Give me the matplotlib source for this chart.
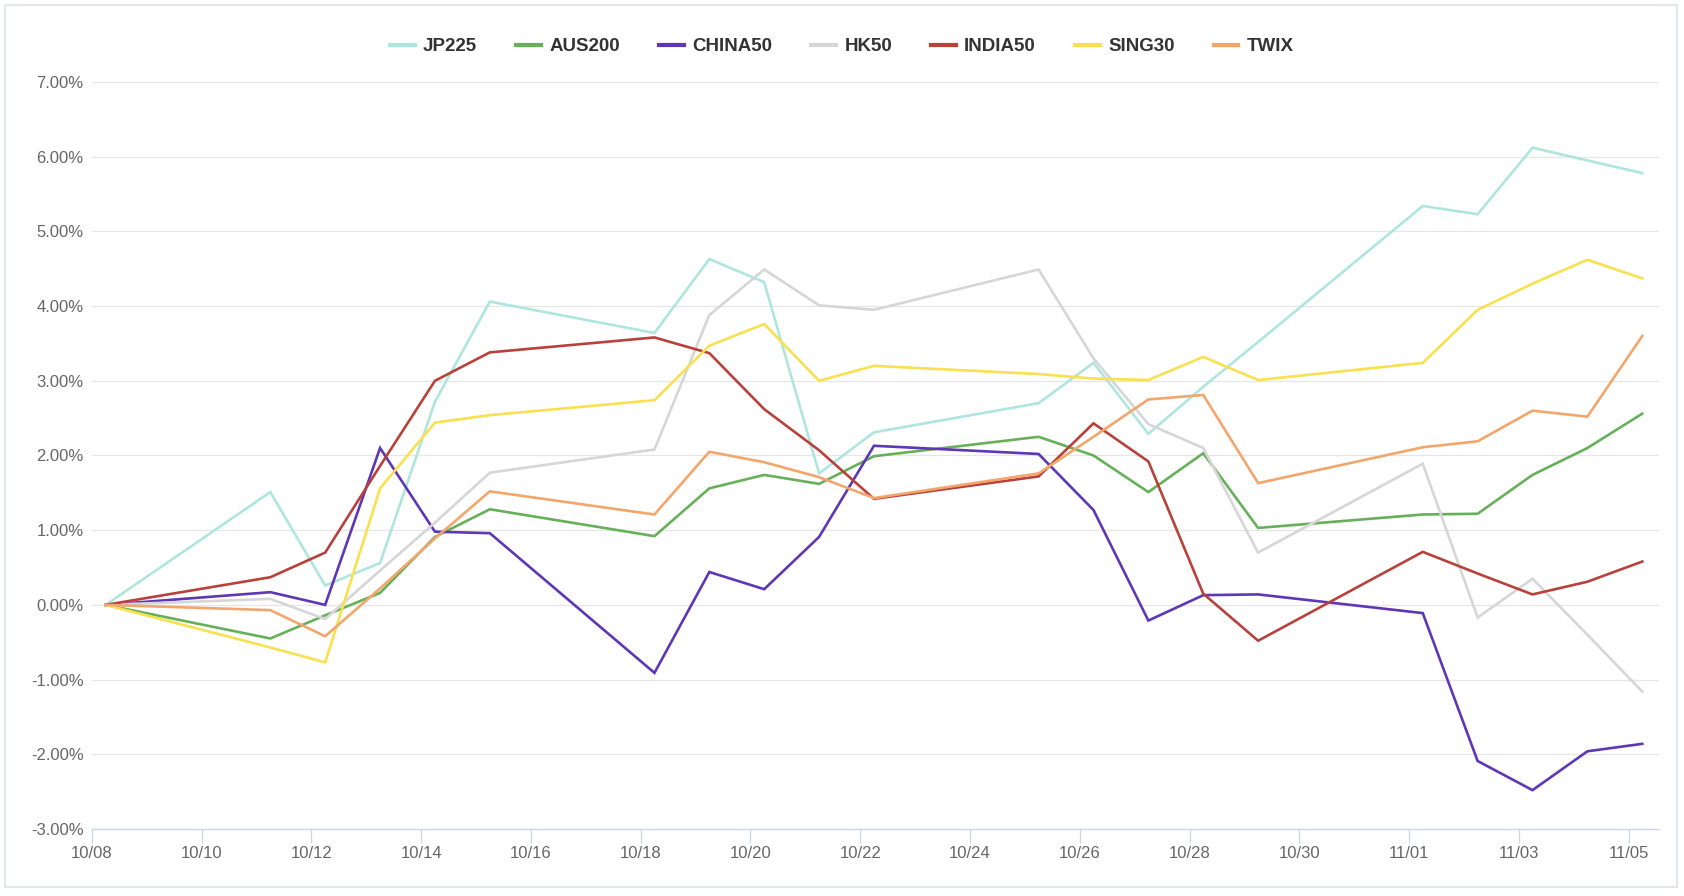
import numpy as np
import pandas as pd
import matplotlib
matplotlib.use("Agg")
import matplotlib.pyplot as plt
from matplotlib.patches import Rectangle

# Data (daily % change vs 10/08)
dates = ['2021-10-08', '2021-10-11', '2021-10-12', '2021-10-13', '2021-10-14',
         '2021-10-15', '2021-10-18', '2021-10-19', '2021-10-20', '2021-10-21',
         '2021-10-22', '2021-10-25', '2021-10-26', '2021-10-27', '2021-10-28',
         '2021-10-29', '2021-11-01', '2021-11-02', '2021-11-03', '2021-11-04',
         '2021-11-05']
jp225 = [0, 1.51, 0.26, 0.56, 2.72, 4.06, 3.64, 4.63, 4.32, 1.76, 2.31,
         2.70, 3.24, 2.29, 2.92, 3.52, 5.34, 5.23, 6.12, 5.95, 5.78]
aus200 = [0, -0.45, -0.14, 0.16, 0.91, 1.28, 0.92, 1.56, 1.74, 1.62, 1.99,
          2.25, 2.00, 1.51, 2.03, 1.03, 1.21, 1.22, 1.74, 2.10, 2.56]
china50 = [0, 0.17, 0.0, 2.10, 0.98, 0.96, -0.91, 0.44, 0.21, 0.91, 2.13,
           2.02, 1.27, -0.21, 0.13, 0.14, -0.11, -2.09, -2.48, -1.96, -1.86]
hk50 = [0, 0.08, -0.19, 0.46, 1.10, 1.77, 2.08, 3.88, 4.49, 4.01, 3.95,
        4.49, 3.30, 2.42, 2.10, 0.70, 1.89, -0.17, 0.35, -0.40, -1.16]
india50 = [0, 0.37, 0.70, 1.86, 3.00, 3.38, 3.58, 3.37, 2.62, 2.07, 1.42,
           1.72, 2.43, 1.92, 0.15, -0.48, 0.71, 0.42, 0.14, 0.31, 0.58]
sing30 = [0, -0.57, -0.77, 1.56, 2.44, 2.54, 2.74, 3.47, 3.76, 3.00, 3.20,
          3.09, 3.03, 3.01, 3.32, 3.01, 3.24, 3.95, 4.30, 4.62, 4.37]
twix = [0, -0.07, -0.42, 0.22, 0.89, 1.52, 1.21, 2.05, 1.91, 1.71, 1.43,
        1.76, 2.25, 2.75, 2.81, 1.63, 2.11, 2.19, 2.60, 2.52, 3.60]

names = ['JP225', 'AUS200', 'CHINA50', 'HK50', 'INDIA50', 'SING30', 'TWIX']
colors = ['#aee6de', '#67b05a', '#5e37b4', '#d6d6d6', '#b9413b', '#f9e04f', '#f2a66b']
series = [jp225, aus200, china50, hk50, india50, sing30, twix]

x = pd.to_datetime(dates) + pd.Timedelta(hours=6)

plt.rcParams['font.family'] = ['Liberation Sans', 'DejaVu Sans']

fig = plt.figure(figsize=(16.84, 8.96), dpi=100)
ax = fig.add_axes([0.0546, 0.0748, 0.9304, 0.8337])

for name, vals, col in zip(names, series, colors):
    ax.plot(x, vals, color=col, lw=1.9, label=name, solid_joinstyle='miter')

# axes styling
start = pd.Timestamp('2021-10-08')
ax.set_xlim(start, start + pd.Timedelta(days=28.55))
ax.set_ylim(-3, 7)
ax.set_yticks(np.arange(-3, 8, 1))
ax.yaxis.set_major_formatter(plt.FuncFormatter(lambda v, p: f"{v:.2f}%"))
ticks = pd.date_range('2021-10-08', '2021-11-05', freq='2D')
ax.set_xticks(ticks)
ax.set_xticklabels([t.strftime('%m/%d') for t in ticks])

ax.grid(axis='y', color='#e6e6e6', lw=0.9)
ax.set_axisbelow(True)
for s in ['top', 'right', 'left']:
    ax.spines[s].set_visible(False)
ax.spines['bottom'].set_color('#ccd6eb')
ax.spines['bottom'].set_linewidth(1.0)
ax.tick_params(axis='y', length=0, pad=6, labelsize=12, labelcolor='#666666')
ax.tick_params(axis='x', length=10, width=0.9, color='#ccd6eb', pad=2,
               labelsize=12, labelcolor='#666666')

leg = ax.legend(loc='center', bbox_to_anchor=(0.5, 0.948), bbox_transform=fig.transFigure,
                ncol=7, frameon=False, handlelength=1.3, handletextpad=0.45,
                columnspacing=2.1, prop={'weight': 'bold', 'size': 13.5})
for t in leg.get_texts():
    t.set_color('#333333')
for h in leg.legend_handles:
    h.set_linewidth(3)

# outer frame
fig.patches.append(Rectangle((0.003, 0.010), 0.9928, 0.9844, transform=fig.transFigure,
                             fill=False, edgecolor='#e1e7ea', lw=1.5))

fig.savefig('out.png', dpi=100)
